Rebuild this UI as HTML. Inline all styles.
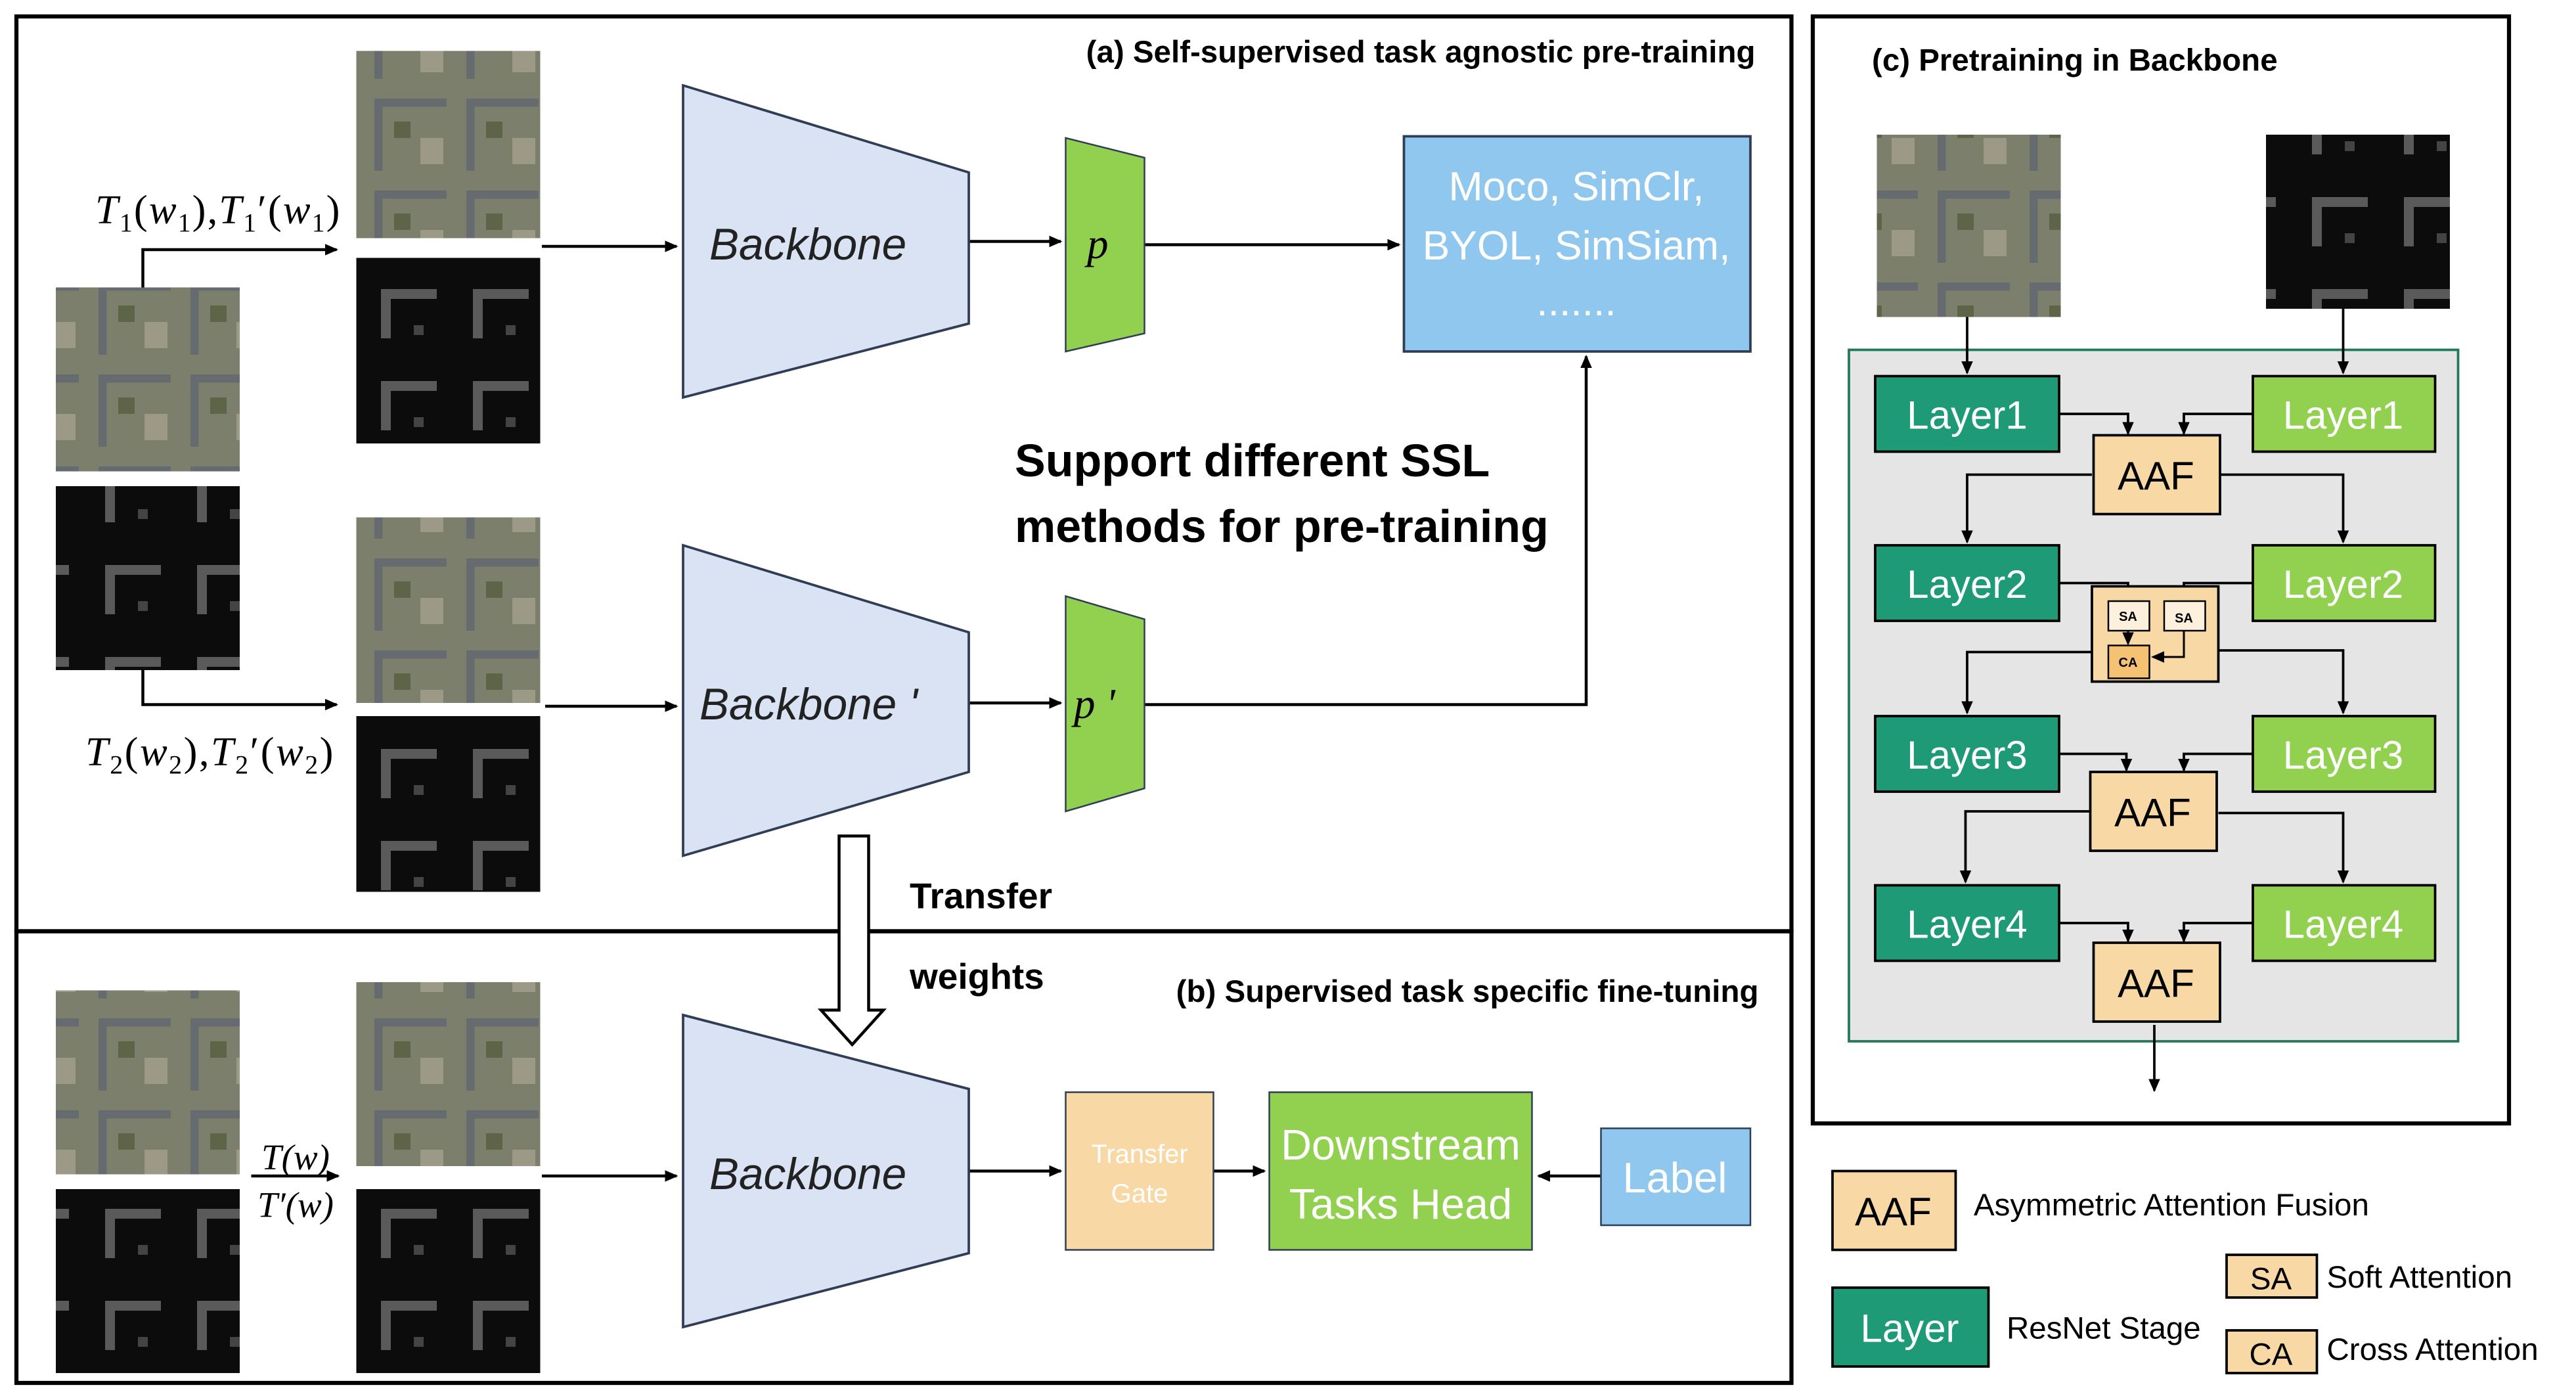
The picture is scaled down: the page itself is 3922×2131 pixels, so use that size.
<!DOCTYPE html>
<html><head><meta charset="utf-8"><style>html,body{margin:0;padding:0;background:#fff}svg{display:block}</style></head>
<body>
<svg xmlns="http://www.w3.org/2000/svg" width="3922" height="2131" viewBox="0 0 1568.8 852.4" font-family="Liberation Sans, sans-serif">
<defs>
<marker id="a" markerWidth="8" markerHeight="8" refX="7" refY="4" orient="auto" markerUnits="userSpaceOnUse"><path d="M0,0.5 L8,4 L0,7.5z" fill="#000"/></marker>
<pattern id="sat" width="56" height="56" patternUnits="userSpaceOnUse"><rect width="56" height="56" fill="#7b7f6c"/><rect x="4" y="4" width="44" height="5" fill="#666b70"/><rect x="4" y="4" width="5" height="44" fill="#666b70"/><rect x="16" y="18" width="10" height="10" fill="#5d6448"/><rect x="32" y="28" width="14" height="16" fill="#9c9a86"/></pattern>
<pattern id="dep" width="56" height="56" patternUnits="userSpaceOnUse"><rect width="56" height="56" fill="#0c0c0c"/><rect x="8" y="8" width="34" height="6" fill="#5a5a5a"/><rect x="8" y="8" width="6" height="30" fill="#5a5a5a"/><rect x="28" y="30" width="6" height="6" fill="#444"/></pattern>
</defs>
<rect x="10" y="10" width="1081" height="557" fill="none" stroke="#000" stroke-width="2.5"/>
<rect x="10" y="567" width="1081" height="275" fill="none" stroke="#000" stroke-width="2.5"/>
<rect x="1104" y="10" width="424" height="674" fill="none" stroke="#000" stroke-width="2.5"/>
<text x="1069" y="38" font-size="19" font-weight="bold" text-anchor="end">(a) Self-supervised task agnostic pre-training</text>
<text x="1071" y="610" font-size="19" font-weight="bold" text-anchor="end">(b) Supervised task specific fine-tuning</text>
<text x="1140" y="43" font-size="19" font-weight="bold">(c) Pretraining in Backbone</text>
<rect x="34" y="175" width="112" height="112" fill="url(#sat)"/>
<rect x="34" y="296" width="112" height="112" fill="url(#dep)"/>
<rect x="217" y="31" width="112" height="114" fill="url(#sat)"/>
<rect x="217" y="157" width="112" height="113" fill="url(#dep)"/>
<rect x="217" y="315" width="112" height="113" fill="url(#sat)"/>
<rect x="217" y="436" width="112" height="107" fill="url(#dep)"/>
<rect x="34" y="603" width="112" height="112" fill="url(#sat)"/>
<rect x="34" y="724" width="112" height="112" fill="url(#dep)"/>
<rect x="217" y="598" width="112" height="112" fill="url(#sat)"/>
<rect x="217" y="724" width="112" height="112" fill="url(#dep)"/>
<rect x="1143" y="82" width="112" height="111" fill="url(#sat)"/>
<rect x="1380" y="82" width="112" height="106" fill="url(#dep)"/>
<g stroke="#000" stroke-width="1.8" fill="none">
<path d="M87,175 V152 H205" marker-end="url(#a)"/>
<path d="M87,408 V429 H205" marker-end="url(#a)"/>
<path d="M330,150 H412" marker-end="url(#a)"/>
<path d="M332,430 H412" marker-end="url(#a)"/>
<path d="M590,147 H646" marker-end="url(#a)"/>
<path d="M697,149 H852" marker-end="url(#a)"/>
<path d="M590,428 H646" marker-end="url(#a)"/>
<path d="M697,429 H966 V217" marker-end="url(#a)"/>
<path d="M153,716 H206" marker-end="url(#a)"/>
<path d="M330,716 H412" marker-end="url(#a)"/>
<path d="M590,713 H646" marker-end="url(#a)"/>
<path d="M739,713 H770" marker-end="url(#a)"/>
<path d="M975,716 H937" marker-end="url(#a)"/>
</g>
<g font-family="Liberation Serif, serif" font-style="italic" font-size="25">
<text x="58" y="136" textLength="149" lengthAdjust="spacing">T<tspan font-size="16" dy="5" font-style="normal">1</tspan><tspan dy="-5" font-style="normal">(</tspan>w<tspan font-size="16" dy="5" font-style="normal">1</tspan><tspan dy="-5" font-style="normal">),</tspan>T<tspan font-size="16" dy="5" font-style="normal">1</tspan><tspan dy="-5" font-style="normal">′(</tspan>w<tspan font-size="16" dy="5" font-style="normal">1</tspan><tspan dy="-5" font-style="normal">)</tspan></text>
<text x="52" y="466" textLength="151" lengthAdjust="spacing">T<tspan font-size="16" dy="5" font-style="normal">2</tspan><tspan dy="-5" font-style="normal">(</tspan>w<tspan font-size="16" dy="5" font-style="normal">2</tspan><tspan dy="-5" font-style="normal">),</tspan>T<tspan font-size="16" dy="5" font-style="normal">2</tspan><tspan dy="-5" font-style="normal">′(</tspan>w<tspan font-size="16" dy="5" font-style="normal">2</tspan><tspan dy="-5" font-style="normal">)</tspan></text>
<text x="180" y="712" text-anchor="middle" font-size="22">T(w)</text>
<text x="180" y="741" text-anchor="middle" font-size="22">T′(w)</text>
</g>
<g fill="#dae3f3" stroke="#2f3d55" stroke-width="1.5">
<polygon points="416,52 590,105 590,197 416,242"/>
<polygon points="416,332 590,385 590,470 416,521"/>
<polygon points="416,618 590,663 590,763 416,808"/>
</g>
<g font-size="27" font-style="italic" fill="#222">
<text x="432" y="158">Backbone</text>
<text x="426" y="438">Backbone '</text>
<text x="432" y="724">Backbone</text>
</g>
<g fill="#92d050" stroke="#2f3d55" stroke-width="1">
<polygon points="649,84 697,96 697,203 649,214"/>
<polygon points="649,363 697,377 697,480 649,494"/>
</g>
<text x="662" y="157" font-family="Liberation Serif, serif" font-style="italic" font-size="26">p</text>
<text x="654" y="437" font-family="Liberation Serif, serif" font-style="italic" font-size="26">p '</text>
<rect x="855" y="83" width="211" height="131" fill="#8fc7ee" stroke="#2f3d55" stroke-width="1.5"/>
<g fill="#fff" font-size="25" text-anchor="middle">
<text x="960" y="122">Moco, SimClr,</text>
<text x="960" y="158">BYOL, SimSiam,</text>
<text x="960" y="192">.......</text>
</g>
<text x="618" y="290" font-size="28" font-weight="bold">Support different SSL</text>
<text x="618" y="330" font-size="28" font-weight="bold">methods for pre-training</text>
<polygon points="511,509 529,509 529,615 538,615 519,636 500,615 511,615" fill="#fff" stroke="#000" stroke-width="1.8"/>
<text x="554" y="553" font-size="22" font-weight="bold">Transfer</text>
<text x="554" y="602" font-size="22" font-weight="bold">weights</text>
<rect x="649" y="665" width="90" height="96" fill="#f8d9a6" stroke="#2f3d55" stroke-width="1"/>
<text x="694" y="708" fill="#fff" font-size="16" text-anchor="middle">Transfer</text>
<text x="694" y="732" fill="#fff" font-size="16" text-anchor="middle">Gate</text>
<rect x="773" y="665" width="160" height="96" fill="#92d050" stroke="#2f3d55" stroke-width="1"/>
<text x="853" y="706" fill="#fff" font-size="26" text-anchor="middle">Downstream</text>
<text x="853" y="742" fill="#fff" font-size="26" text-anchor="middle">Tasks Head</text>
<rect x="975" y="687" width="91" height="59" fill="#8fc7ee" stroke="#2f3d55" stroke-width="1"/>
<text x="1020" y="726" fill="#fff" font-size="26" text-anchor="middle">Label</text>
<rect x="1126" y="213" width="371" height="421" fill="#e5e5e5" stroke="#1e7a5a" stroke-width="1.5"/>
<g stroke="#000" stroke-width="1.5" fill="none">
<path d="M1198,193 V227" marker-end="url(#a)"/>
<path d="M1427,188 V227" marker-end="url(#a)"/>
<path d="M1254,252 H1296 V264" marker-end="url(#a)"/>
<path d="M1372,252 H1330 V264" marker-end="url(#a)"/>
<path d="M1274,289 H1198 V330" marker-end="url(#a)"/>
<path d="M1351,289 H1427 V330" marker-end="url(#a)"/>
<path d="M1254,355 H1296 V366" marker-end="url(#a)"/>
<path d="M1372,355 H1330 V367" marker-end="url(#a)"/>
<path d="M1274,397 H1198 V434" marker-end="url(#a)"/>
<path d="M1351,396 H1427 V434" marker-end="url(#a)"/>
<path d="M1254,459 H1295 V469" marker-end="url(#a)"/>
<path d="M1372,459 H1330 V469" marker-end="url(#a)"/>
<path d="M1273,494 H1197 V537" marker-end="url(#a)"/>
<path d="M1351,495 H1427 V537" marker-end="url(#a)"/>
<path d="M1254,562 H1296 V573" marker-end="url(#a)"/>
<path d="M1372,562 H1330 V573" marker-end="url(#a)"/>
<path d="M1312,624 V664" marker-end="url(#a)"/>
</g>
<g stroke="#000" stroke-width="1.5">
<g fill="#1e9b76">
<rect x="1142" y="229" width="112" height="46"/><rect x="1142" y="332" width="112" height="46"/>
<rect x="1142" y="436" width="112" height="46"/><rect x="1142" y="539" width="112" height="46"/>
</g>
<g fill="#92d050">
<rect x="1372" y="229" width="111" height="46"/><rect x="1372" y="332" width="111" height="46"/>
<rect x="1372" y="436" width="111" height="46"/><rect x="1372" y="539" width="111" height="46"/>
</g>
<g fill="#f8d9a6">
<rect x="1275" y="265" width="77" height="48"/><rect x="1274" y="357" width="77" height="58"/>
<rect x="1273" y="470" width="77" height="48"/><rect x="1275" y="574" width="77" height="48"/>
</g>
<rect x="1284" y="366" width="25" height="18" fill="#fdf0dc" stroke-width="1"/>
<rect x="1318" y="366" width="25" height="18" fill="#fdf0dc" stroke-width="1"/>
<rect x="1284" y="393" width="25" height="20" fill="#f4c272" stroke-width="1"/>
</g>
<g stroke="#000" stroke-width="1.2" fill="none">
<path d="M1296,384 V392" marker-end="url(#a)"/>
<path d="M1330,384 V400 H1311" marker-end="url(#a)"/>
</g>
<g font-size="8" font-weight="bold" text-anchor="middle">
<text x="1296" y="378">SA</text><text x="1330" y="379">SA</text><text x="1296" y="406">CA</text>
</g>
<g fill="#fff" font-size="24" text-anchor="middle">
<text x="1198" y="261">Layer1</text><text x="1198" y="364">Layer2</text><text x="1198" y="468">Layer3</text><text x="1198" y="571">Layer4</text>
<text x="1427" y="261">Layer1</text><text x="1427" y="364">Layer2</text><text x="1427" y="468">Layer3</text><text x="1427" y="571">Layer4</text>
</g>
<g font-size="24" text-anchor="middle">
<text x="1313" y="298">AAF</text><text x="1311" y="503">AAF</text><text x="1313" y="607">AAF</text>
</g>
<rect x="1116" y="713" width="75" height="48" fill="#f8d9a6" stroke="#000" stroke-width="1.5"/>
<text x="1153" y="746" font-size="24" text-anchor="middle">AAF</text>
<text x="1202" y="740" font-size="19">Asymmetric Attention Fusion</text>
<rect x="1116" y="784" width="95" height="48" fill="#1e9b76" stroke="#000" stroke-width="1.5"/>
<text x="1163" y="817" font-size="24" fill="#fff" text-anchor="middle">Layer</text>
<text x="1222" y="815" font-size="19">ResNet Stage</text>
<rect x="1356" y="764" width="55" height="26" fill="#f8d9a6" stroke="#000" stroke-width="1.5"/>
<text x="1383" y="785" font-size="19" text-anchor="middle">SA</text>
<text x="1417" y="784" font-size="19">Soft Attention</text>
<rect x="1356" y="810" width="55" height="26" fill="#f8d9a6" stroke="#000" stroke-width="1.5"/>
<text x="1383" y="831" font-size="19" text-anchor="middle">CA</text>
<text x="1417" y="828" font-size="19">Cross Attention</text>
</svg>
</body></html>
